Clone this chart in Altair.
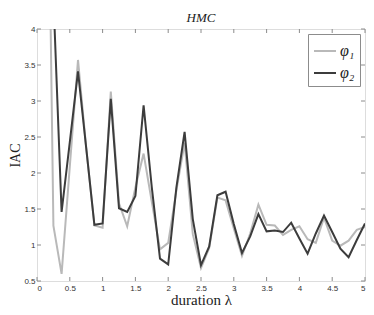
import altair as alt
import pandas as pd

# ---- data ----
lam = [0.125, 0.25, 0.375, 0.5, 0.625, 0.75, 0.875, 1.0, 1.125, 1.25,
       1.375, 1.5, 1.625, 1.75, 1.875, 2.0, 2.125, 2.25, 2.375, 2.5,
       2.625, 2.75, 2.875, 3.0, 3.125, 3.25, 3.375, 3.5, 3.625, 3.75,
       3.875, 4.0, 4.125, 4.25, 4.375, 4.5, 4.625, 4.75, 4.875, 5.0]

phi1 = [9.5, 1.27, 0.60, 2.09, 3.57, 2.35, 1.27, 1.24, 3.13, 1.58,
        1.26, 1.80, 2.27, 1.60, 0.94, 1.03, 1.76, 2.42, 1.15, 0.68,
        0.96, 1.66, 1.62, 1.23, 0.85, 1.16, 1.56, 1.28, 1.27, 1.14,
        1.21, 1.26, 1.08, 1.03, 1.38, 1.06, 0.99, 1.06, 1.21, 1.25]

# phi2 starts at lambda = 0.25
phi2 = [4.45, 1.46, 2.43, 3.41, 2.35, 1.28, 1.30, 3.03, 1.51,
        1.46, 1.68, 2.94, 1.80, 0.81, 0.73, 1.80, 2.57, 1.36, 0.72,
        0.98, 1.69, 1.74, 1.29, 0.89, 1.12, 1.43, 1.19, 1.20, 1.18,
        1.31, 1.09, 0.88, 1.16, 1.41, 1.18, 0.95, 0.83, 1.07, 1.30]

series_names = ["φ₁", "φ₂"]
series_colors = ["#b9b9b9", "#3c3c3c"]

x_ticks = [0, 0.5, 1, 1.5, 2, 2.5, 3, 3.5, 4, 4.5, 5]
y_ticks = [0.5, 1, 1.5, 2, 2.5, 3, 3.5, 4]

PL, PT, PR, PB = 29, 21, 1, 26
W, H = 358 - PL - PR, 299 - PT - PB
TL = 4  # inward tick length

rows = [{"lam": l, "iac": v, "s": series_names[0]} for l, v in zip(lam, phi1)]
rows += [{"lam": l, "iac": v, "s": series_names[1]} for l, v in zip(lam[1:], phi2)]
df = pd.DataFrame(rows)

xscale = alt.Scale(domain=[0, 5], nice=False, zero=False)
yscale = alt.Scale(domain=[0.5, 4], nice=False, zero=False)

serif = "Liberation Serif"
sans = "Liberation Sans"

x_axis = alt.Axis(values=x_ticks, format="~g", ticks=False, domain=False,
                  grid=False, labelFontSize=8, labelFont=sans,
                  labelColor="#333333", labelPadding=3, labelOverlap=False,
                  title="duration λ", titleFont=serif, titleFontSize=15,
                  titleFontWeight="normal", titleColor="#222222",
                  titlePadding=0)
y_axis = alt.Axis(values=y_ticks, format="~g", ticks=False, domain=False,
                  grid=False, labelFontSize=8, labelFont=sans,
                  labelColor="#333333", labelPadding=2, labelOverlap=False,
                  title="IAC", titleFont=serif, titleFontSize=14,
                  titleFontWeight="normal", titleColor="#222222",
                  titlePadding=1)

lines = alt.Chart(df).mark_line(clip=True, strokeWidth=2).encode(
    x=alt.X("lam:Q", scale=xscale, axis=x_axis),
    y=alt.Y("iac:Q", scale=yscale, axis=y_axis),
    color=alt.Color("s:N", scale=alt.Scale(domain=series_names, range=series_colors),
                    legend=alt.Legend(title=None, orient="none", legendX=W - 57, legendY=5,
                                      fillColor="white", strokeColor="#8c8c8c",
                                      padding=5, symbolType="stroke",
                                      symbolSize=484, symbolStrokeWidth=2,
                                      labelFont=serif, labelFontSize=16,
                                      labelFontStyle="italic", labelColor="#222222",
                                      rowPadding=2, labelOffset=3)),
)

xt = pd.DataFrame({"v": x_ticks})
yt = pd.DataFrame({"v": y_ticks})

rule = dict(color="#8c8c8c", strokeWidth=1)
bottom_ticks = alt.Chart(xt).mark_rule(**rule).encode(
    x=alt.X("v:Q", scale=xscale, axis=x_axis), y=alt.value(H), y2=alt.value(H - TL))
top_ticks = alt.Chart(xt).mark_rule(**rule).encode(
    x=alt.X("v:Q", scale=xscale, axis=x_axis), y=alt.value(0), y2=alt.value(TL))
left_ticks = alt.Chart(yt).mark_rule(**rule).encode(
    y=alt.Y("v:Q", scale=yscale, axis=y_axis), x=alt.value(0), x2=alt.value(TL))
right_ticks = alt.Chart(yt).mark_rule(**rule).encode(
    y=alt.Y("v:Q", scale=yscale, axis=y_axis), x=alt.value(W), x2=alt.value(W - TL))

chart = alt.layer(lines, bottom_ticks, top_ticks, left_ticks, right_ticks).properties(
    width=W, height=H,
    title=alt.TitleParams("HMC", font=serif, fontSize=13, fontStyle="italic",
                          fontWeight="normal", color="#222222", offset=0,
                          anchor="middle", frame="group"),
    autosize=alt.AutoSizeParams(type="none"),
    padding={"left": PL, "top": PT, "right": PR, "bottom": PB},
).configure_view(stroke="#8c8c8c", strokeWidth=1).configure(background="white")

chart.save("out.html", embed_options={"renderer": "svg", "actions": False})
